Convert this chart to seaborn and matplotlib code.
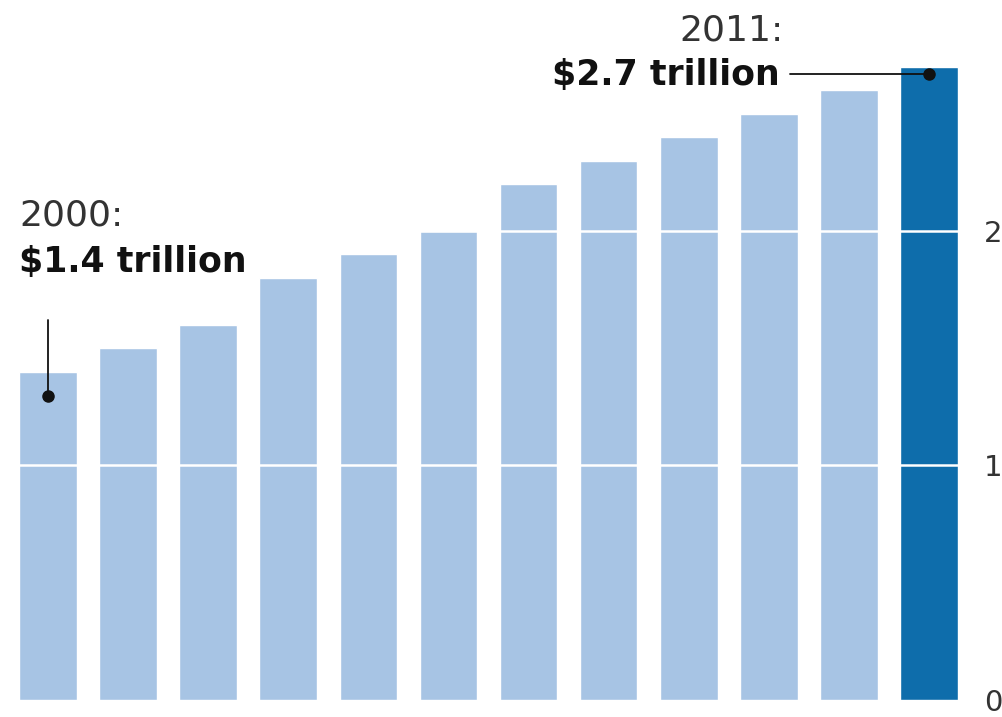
import matplotlib
matplotlib.use("Agg")
import matplotlib.pyplot as plt
import seaborn as sns
import pandas as pd

years = ["2000", "2001", "2002", "2003", "2004", "2005", "2006", "2007", "2008", "2009", "2010", "2011"]
values = [1.4, 1.5, 1.6, 1.8, 1.9, 2.0, 2.2, 2.3, 2.4, 2.5, 2.6, 2.7]
yticks = [0, 1, 2]

sns.set_theme(style="white")
plt.rcParams['font.family'] = ['DejaVu Sans']

df = pd.DataFrame({"year": years, "value": values})
df["highlight"] = ["last" if y == years[-1] else "other" for y in years]

fig = plt.figure(figsize=(10.02, 7.17), dpi=100)
ax = fig.add_axes([0, 17/717, 981/1002, 700/717])
sns.barplot(data=df, x="year", y="value", hue="highlight",
            palette={"other": "#a7c4e4", "last": "#0e6dab"},
            width=0.72, legend=False, ax=ax, saturation=1, zorder=1)

ax.set_xlim(-0.6, 11.65)
ax.set_ylim(0, 2.985)
for t in yticks[1:]:
    ax.axhline(t, color="white", lw=1.8, zorder=3)

for s in ax.spines.values():
    s.set_visible(False)
ax.set_xticks([])
ax.set_xlabel("")
ax.set_ylabel("")
ax.yaxis.tick_right()
ax.set_yticks(yticks)
ax.set_yticklabels([str(t) for t in yticks])
ax.tick_params(axis="y", length=0, pad=2, labelsize=21, labelcolor="#333333")

# annotations
ax.text(-0.36, 2.064, f"{years[0]}:", fontsize=26, color="#333333", va="center", ha="left")
ax.text(-0.36, 1.868, f"${values[0]} trillion", fontsize=25, fontweight="bold", color="#111111", va="center", ha="left")
ax.plot([0, 0], [1.296, 1.62], color="#111111", lw=1.3, zorder=4)
ax.plot([0], [1.296], "o", color="#111111", ms=8, zorder=5)

ax.text(9.18, 2.857, f"{years[-1]}:", fontsize=26, color="#333333", va="center", ha="right")
ax.text(9.14, 2.665, f"${values[-1]} trillion", fontsize=25, fontweight="bold", color="#111111", va="center", ha="right")
ax.plot([9.26, 11], [2.67, 2.67], color="#111111", lw=1.3, zorder=4)
ax.plot([11], [2.67], "o", color="#111111", ms=8, zorder=5)

fig.savefig("out.png", dpi=100)
